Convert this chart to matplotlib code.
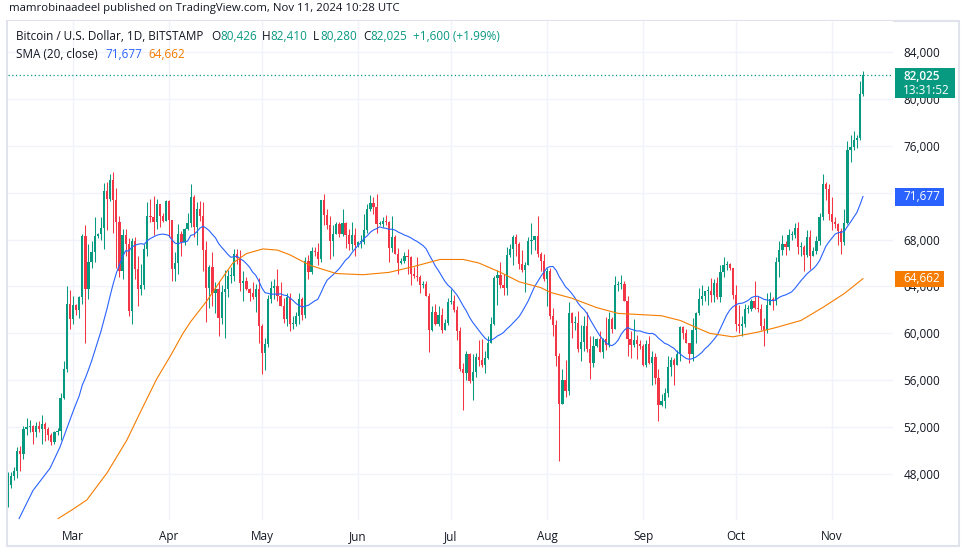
import matplotlib
matplotlib.use("Agg")
import matplotlib.pyplot as plt
import matplotlib.dates as mdates
from matplotlib.patches import Rectangle
import numpy as np
import pandas as pd

# ---------------- data (prices in thousands of USD) ----------------
start_date = "2024-02-09"
end_date = "2024-11-11"

opens_k = [
    # Feb 9-29
    45.3, 47.1, 47.8, 48.3, 50.0, 49.7, 51.8, 52.0, 52.1, 51.6, 52.1, 51.8, 52.3, 51.8, 51.3, 50.7, 51.6, 51.7, 54.5, 57.0, 62.5,
    # Mar
    61.2, 62.4, 62.0, 63.1, 68.3, 63.8, 66.1, 66.9, 68.3, 68.5, 69.0, 72.1, 71.5, 73.1, 71.4, 69.5, 65.3, 68.4, 67.6, 61.9, 67.9, 65.5, 63.8, 64.1, 67.2, 70.0, 69.9, 69.5, 71.0, 70.0, 69.6,
    # Apr
    71.3, 69.7, 65.5, 66.0, 68.5, 67.8, 68.9, 69.4, 71.6, 69.1, 70.6, 70.0, 67.1, 63.9, 65.7, 63.4, 63.8, 61.3, 63.5, 63.8, 64.9, 64.9, 66.8, 66.4, 64.3, 64.5, 63.8, 63.4, 63.1, 63.8,
    # May
    60.6, 58.3, 59.1, 62.9, 63.9, 64.0, 63.2, 62.3, 61.2, 63.1, 60.8, 60.8, 61.5, 62.9, 61.6, 66.2, 65.2, 67.0, 66.9, 66.3, 71.4, 70.1, 69.2, 67.9, 68.5, 69.3, 68.5, 69.4, 68.4, 67.6, 68.4,
    # Jun
    67.5, 67.8, 67.8, 68.8, 70.6, 71.1, 70.8, 69.3, 69.3, 69.6, 69.5, 67.3, 68.2, 66.8, 66.0, 66.2, 66.6, 66.5, 65.1, 64.9, 64.8, 64.1, 64.2, 63.2, 60.3, 61.8, 60.8, 61.6, 60.3, 60.9,
    # Jul
    62.7, 62.8, 62.0, 60.2, 57.0, 56.6, 58.2, 55.9, 56.7, 58.0, 57.7, 57.3, 57.9, 59.2, 60.8, 64.7, 65.0, 64.1, 63.9, 66.7, 67.2, 68.2, 67.6, 65.9, 65.4, 65.8, 67.9, 68.0, 68.3, 66.8, 66.2,
    # Aug
    64.6, 65.3, 61.5, 60.7, 58.1, 54.0, 56.0, 55.1, 61.7, 60.9, 60.9, 58.7, 59.3, 60.6, 58.7, 57.5, 58.9, 59.5, 58.4, 59.5, 59.0, 61.2, 60.4, 64.1, 64.2, 64.2, 62.8, 59.5, 59.0, 59.4, 59.1,
    # Sep
    58.9, 57.3, 59.1, 57.5, 58.0, 56.2, 53.9, 54.2, 54.9, 57.1, 57.7, 57.3, 58.2, 60.5, 60.0, 59.2, 58.2, 60.3, 61.7, 62.9, 63.2, 63.6, 63.6, 63.3, 64.3, 63.1, 65.2, 65.8, 65.9, 65.6,
    # Oct
    63.3, 60.8, 60.6, 60.8, 62.1, 62.1, 62.8, 62.2, 62.1, 60.6, 60.3, 62.4, 62.9, 62.8, 66.1, 67.1, 67.6, 67.4, 68.4, 68.4, 69.0, 67.4, 67.4, 66.7, 68.2, 66.6, 67.0, 67.9, 69.9, 72.7, 72.3,
    # Nov 1-11
    70.2, 69.5, 69.3, 68.7, 67.8, 69.4, 75.6, 75.9, 76.5, 76.7, 80.426,
]

highs_k = [
    48.2, 48.2, 48.6, 50.3, 50.4, 52.1, 52.8, 52.6, 52.2, 52.4, 52.5, 53.0, 52.4, 52.0, 51.5, 51.7, 51.9, 54.9, 57.6, 64.0, 63.7,
    63.2, 62.5, 63.2, 68.5, 69.2, 67.6, 67.9, 69.9, 68.6, 69.9, 72.8, 72.9, 73.6, 73.8, 72.4, 70.0, 68.9, 68.9, 68.1, 68.1, 68.2, 66.6, 65.9, 67.6, 71.2, 71.5, 71.7, 71.5, 71.0, 70.3, 71.4,
    71.4, 69.7, 66.9, 69.3, 68.7, 69.0, 70.3, 72.7, 71.8, 71.2, 71.3, 71.2, 67.9, 65.8, 66.9, 64.4, 64.5, 64.1, 65.4, 65.4, 65.7, 67.2, 67.2, 67.1, 65.3, 64.8, 63.9, 64.4, 64.2, 64.7,
    60.8, 59.6, 63.3, 64.5, 64.6, 65.5, 64.4, 63.0, 63.4, 63.4, 61.5, 61.8, 63.4, 63.1, 66.5, 66.7, 67.4, 67.4, 67.7, 71.4, 71.9, 70.6, 70.0, 69.2, 69.5, 69.5, 70.6, 69.5, 68.9, 69.5, 69.0,
    67.9, 68.4, 70.2, 71.0, 71.8, 71.6, 71.9, 69.6, 69.9, 70.1, 69.6, 70.0, 68.4, 67.3, 66.4, 66.9, 67.2, 66.6, 65.7, 66.5, 65.0, 64.5, 64.5, 63.4, 62.3, 62.5, 62.3, 62.2, 61.2, 63.0,
    63.8, 63.3, 62.3, 60.5, 57.5, 58.5, 58.3, 58.2, 58.3, 59.4, 59.5, 58.5, 59.8, 61.4, 64.9, 65.4, 66.1, 65.1, 67.4, 67.6, 68.4, 68.5, 67.8, 67.1, 66.1, 68.2, 69.4, 68.3, 70.0, 66.9, 66.8,
    65.6, 65.6, 62.2, 61.1, 58.3, 57.0, 57.7, 62.7, 61.8, 61.5, 61.9, 60.7, 61.5, 61.8, 59.8, 59.8, 59.6, 60.2, 59.6, 61.4, 61.8, 61.4, 64.9, 64.5, 65.0, 64.5, 63.2, 60.2, 61.2, 59.9, 59.4,
    59.1, 59.4, 59.8, 58.5, 58.3, 57.0, 54.8, 55.3, 58.1, 58.0, 57.9, 58.6, 60.6, 60.6, 60.4, 59.2, 61.3, 61.8, 63.9, 64.1, 63.6, 64.0, 64.7, 64.6, 64.8, 65.8, 66.5, 66.2, 66.0, 65.6,
    64.1, 62.4, 61.5, 62.5, 62.4, 62.9, 64.5, 63.2, 62.5, 61.3, 63.4, 63.5, 63.1, 66.5, 67.9, 68.4, 67.9, 68.9, 68.7, 69.4, 69.5, 67.8, 67.5, 68.8, 68.8, 67.4, 68.3, 70.3, 73.6, 72.9, 72.7,
    71.6, 69.9, 69.4, 69.0, 70.6, 76.4, 76.9, 77.3, 76.9, 81.5, 82.410,
]

lows_k = [
    45.2, 46.8, 47.5, 47.7, 48.3, 49.3, 51.3, 51.6, 50.6, 51.2, 51.6, 50.6, 50.8, 50.9, 50.5, 50.6, 51.3, 50.9, 54.4, 56.7, 60.4,
    60.8, 61.6, 61.3, 62.5, 59.2, 62.9, 65.6, 66.1, 68.1, 68.0, 67.2, 68.8, 71.3, 68.6, 65.6, 64.8, 64.6, 66.6, 61.5, 60.8, 64.6, 62.3, 63.3, 63.8, 66.6, 69.5, 68.4, 68.9, 69.1, 69.5, 69.6,
    68.2, 64.5, 64.5, 65.1, 66.6, 67.5, 68.8, 69.1, 68.2, 67.5, 69.6, 65.3, 61.0, 62.2, 62.3, 61.7, 59.8, 60.8, 59.6, 63.1, 64.3, 64.5, 65.9, 63.6, 62.8, 63.7, 62.8, 62.9, 61.8, 59.2,
    56.5, 56.9, 58.8, 62.6, 62.9, 62.8, 62.3, 60.9, 60.6, 60.2, 60.4, 60.6, 60.8, 61.1, 61.3, 64.6, 65.1, 66.6, 65.8, 66.1, 69.2, 68.9, 66.3, 66.6, 68.5, 68.2, 68.3, 67.3, 67.1, 67.1, 66.6,
    67.4, 67.3, 67.6, 68.6, 70.4, 70.2, 68.6, 69.2, 69.1, 69.2, 66.1, 66.9, 66.8, 65.1, 65.9, 66.0, 65.1, 64.1, 64.7, 64.5, 63.4, 63.9, 63.2, 58.4, 60.2, 60.7, 60.6, 60.0, 60.3, 60.7,
    62.5, 61.8, 59.4, 56.8, 53.5, 56.0, 55.8, 54.3, 56.3, 57.2, 57.1, 56.6, 57.8, 59.2, 60.7, 62.4, 63.9, 63.3, 63.3, 66.5, 65.8, 66.6, 65.5, 65.2, 63.5, 65.8, 66.8, 67.1, 66.5, 65.3, 64.5,
    62.3, 61.2, 59.8, 57.2, 49.1, 54.0, 54.6, 54.7, 59.6, 60.3, 58.4, 57.6, 58.5, 58.4, 56.1, 57.1, 58.8, 58.4, 57.9, 58.6, 58.8, 60.0, 60.4, 63.6, 63.8, 62.8, 58.1, 57.9, 58.8, 57.8, 58.7,
    57.2, 57.1, 57.4, 55.6, 55.7, 52.5, 53.8, 53.6, 54.6, 56.4, 55.6, 57.3, 57.6, 59.5, 59.2, 57.5, 57.6, 59.2, 61.6, 62.4, 62.8, 62.4, 62.7, 62.7, 62.9, 62.7, 64.8, 65.4, 65.4, 62.9,
    60.2, 60.0, 59.8, 60.5, 61.7, 61.9, 62.1, 61.8, 60.3, 58.9, 60.0, 62.4, 62.0, 62.4, 64.8, 66.7, 66.7, 67.1, 68.0, 68.1, 66.8, 66.6, 65.3, 66.5, 65.5, 66.6, 66.8, 67.5, 69.7, 71.4, 69.7,
    68.8, 69.0, 67.5, 66.8, 67.5, 69.3, 74.6, 75.6, 75.8, 76.5, 80.280,
]

closes_k = [
    47.1, 47.8, 48.3, 50.0, 49.7, 51.8, 52.0, 52.1, 51.6, 52.1, 51.8, 52.3, 51.8, 51.3, 50.7, 51.6, 51.7, 54.5, 57.0, 62.5, 61.2,
    62.4, 62.0, 63.1, 68.3, 63.8, 66.1, 66.9, 68.3, 68.5, 69.0, 72.1, 71.5, 73.1, 71.4, 69.5, 65.3, 68.4, 67.6, 61.9, 67.9, 65.5, 63.8, 64.1, 67.2, 70.0, 69.9, 69.5, 71.0, 70.0, 69.6, 71.3,
    69.7, 65.5, 66.0, 68.5, 67.8, 68.9, 69.4, 71.6, 69.1, 70.6, 70.0, 67.1, 63.9, 65.7, 63.4, 63.8, 61.3, 63.5, 63.8, 64.9, 64.9, 66.8, 66.4, 64.3, 64.5, 63.8, 63.4, 63.1, 63.8, 60.6,
    58.3, 59.1, 62.9, 63.9, 64.0, 63.2, 62.3, 61.2, 63.1, 60.8, 60.8, 61.5, 62.9, 61.6, 66.2, 65.2, 67.0, 66.9, 66.3, 71.4, 70.1, 69.2, 67.9, 68.5, 69.3, 68.5, 69.4, 68.4, 67.6, 68.4, 67.5,
    67.8, 67.8, 68.8, 70.6, 71.1, 70.8, 69.3, 69.3, 69.6, 69.5, 67.3, 68.2, 66.8, 66.0, 66.2, 66.6, 66.5, 65.1, 64.9, 64.8, 64.1, 64.2, 63.2, 60.3, 61.8, 60.8, 61.6, 60.3, 60.9, 62.7,
    62.8, 62.0, 60.2, 57.0, 56.6, 58.2, 55.9, 56.7, 58.0, 57.7, 57.3, 57.9, 59.2, 60.8, 64.7, 65.0, 64.1, 63.9, 66.7, 67.2, 68.2, 67.6, 65.9, 65.4, 65.8, 67.9, 68.0, 68.3, 66.8, 66.2, 64.6,
    65.3, 61.5, 60.7, 58.1, 54.0, 56.0, 55.1, 61.7, 60.9, 60.9, 58.7, 59.3, 60.6, 58.7, 57.5, 58.9, 59.5, 58.4, 59.5, 59.0, 61.2, 60.4, 64.1, 64.2, 64.2, 62.8, 59.5, 59.0, 59.4, 59.1, 58.9,
    57.3, 59.1, 57.5, 58.0, 56.2, 53.9, 54.2, 54.9, 57.1, 57.7, 57.3, 58.2, 60.5, 60.0, 59.2, 58.2, 60.3, 61.7, 62.9, 63.2, 63.6, 63.6, 63.3, 64.3, 63.1, 65.2, 65.8, 65.9, 65.6, 63.3,
    60.8, 60.6, 60.8, 62.1, 62.1, 62.8, 62.2, 62.1, 60.6, 60.3, 62.4, 62.9, 62.8, 66.1, 67.1, 67.6, 67.4, 68.4, 68.4, 69.0, 67.4, 67.4, 66.7, 68.2, 66.6, 67.0, 67.9, 69.9, 72.7, 72.3, 70.2,
    69.5, 69.3, 68.7, 67.8, 69.4, 75.6, 75.9, 76.5, 76.7, 80.4, 82.025,
]

# SMA(20) before enough bars are on screen: values
# (days relative to 2024-03-01)
sma20_early_days = [-17.4, -12.9, -7.4, -4.2]
sma20_early_k = [44.2, 46.6, 48.5, 50.3]

# second (orange) moving-average line (days rel. to 2024-03-01)
sma_slow_days = [-4.8, 0, 4.5, 11, 17.4, 21.6, 27, 31.5, 35.5, 38, 43.3, 48.4, 51.6, 56, 61.3, 66,
                 70, 76.5, 85, 93.6, 102, 110, 118.5, 126, 131, 138, 144, 151, 154, 161, 169, 176,
                 183, 190, 196, 202, 205.6, 213, 221, 227, 235, 242, 249, 255]
sma_slow_k = [44.2, 45.0, 45.8, 48.1, 50.9, 53.2, 56.1, 58.1, 60.0, 61.0, 62.8, 64.8, 66.0, 66.8, 67.2,
              67.1, 66.7, 65.8, 65.1, 65.0, 65.2, 65.7, 66.3, 66.3, 66.0, 65.2, 64.4, 63.9, 63.5, 63.0,
              62.2, 61.7, 61.6, 61.5, 61.1, 60.4, 60.0, 59.7, 60.1, 60.5, 61.1, 62.2, 63.4, 64.662]

price_ticks_k = [48, 52, 56, 60, 64, 68, 72, 76, 80, 84]
price_tick_labels = ["48,000", "52,000", "56,000", "60,000", "64,000", "68,000", "72,000", "76,000", "80,000", "84,000"]

header_text = "mamrobinaadeel published on TradingView.com, Nov 11, 2024 10:28 UTC"
symbol_text = "Bitcoin / U.S. Dollar, 1D, BITSTAMP"
ohlc_letters = ["O", "H", "L", "C"]
ohlc_values = ["80,426", "82,410", "80,280", "82,025"]
change_text = "+1,600 (+1.99%)"
sma_label = "SMA (20, close)"
sma_values = ["71,677", "64,662"]
last_price_k = 82.025
last_price_text = "82,025"
countdown_text = "13:31:52"

# ---------------- styling ----------------
W, H = 967, 551
UP = "#089981"
DOWN = "#f23645"
BLUE = "#2962ff"
ORANGE = "#f57c00"
TXT = "#131722"
GRID = "#f0f3fa"
FONT = ["Open Sans", "DejaVu Sans"]
plt.rcParams["font.family"] = FONT


def fx(px):
    return px / W


def fy(py):
    return 1 - py / H


dates = pd.date_range(start_date, end_date, freq="D")
x = mdates.date2num(dates)
O = np.array(opens_k)
Hh = np.array(highs_k)
L = np.array(lows_k)
C = np.array(closes_k)
assert len(O) == len(Hh) == len(L) == len(C) == len(x)

base = mdates.date2num(pd.Timestamp("2024-03-01"))

fig = plt.figure(figsize=(W / 100, H / 100), dpi=100)
fig.patch.set_facecolor("white")

# outer frame
fig.add_artist(Rectangle((fx(7), fy(546)), (959 - 7) / W, (546 - 21) / H, transform=fig.transFigure,
                         facecolor="none", edgecolor="#e0e3eb", lw=1.5, zorder=0))

ax = fig.add_axes([fx(8), fy(520), (893 - 8) / W, (520 - 21) / H])
ax.set_facecolor("white")
for s in ax.spines.values():
    s.set_visible(False)

ax.set_xlim(base - 20.98, base + 264.7)
ax.set_ylim(44.08, 86.64)

ax.xaxis.set_major_locator(mdates.MonthLocator())
ax.xaxis.set_major_formatter(mdates.DateFormatter("%b"))
ax.yaxis.tick_right()
ax.set_yticks(price_ticks_k)
ax.set_yticklabels(price_tick_labels)
ax.tick_params(axis="both", length=0, colors=TXT, labelsize=8.5)
ax.tick_params(axis="x", pad=7)
ax.tick_params(axis="y", pad=7.5)
for lab in ax.get_yticklabels():
    lab.set_horizontalalignment("left")
ax.grid(True, color=GRID, lw=1.0, zorder=0)
ax.set_axisbelow(True)

# candles
up = C >= O
colors = np.where(up, UP, DOWN)
body_bottom = np.minimum(O, C)
body_h = np.maximum(np.abs(C - O), 0.09)
ax.vlines(x, L, Hh, colors=colors, lw=0.75, zorder=2)
ax.bar(x, body_h, bottom=body_bottom, width=0.72, color=colors, linewidth=0, zorder=3)

# SMA 20 (computed from closes) + early part
sma20 = pd.Series(C).rolling(20).mean().to_numpy()
valid = ~np.isnan(sma20)
blue_x = np.concatenate([base + np.array(sma20_early_days), x[valid]])
blue_y = np.concatenate([np.array(sma20_early_k), sma20[valid]])
ax.plot(blue_x, blue_y, color=BLUE, lw=0.8, zorder=4, solid_joinstyle="round")

# slow MA (orange)
ax.plot(base + np.array(sma_slow_days), sma_slow_k, color=ORANGE, lw=0.8, zorder=4,
        solid_joinstyle="round")

# last price dotted line
ax.axhline(last_price_k, color=UP, lw=0.9, ls=(0, (1, 2)), zorder=4)

# ---------------- header & legend ----------------
fig.text(fx(9), fy(9), header_text, fontsize=8.2, color=TXT, va="center", ha="left")
fig.text(fx(16), fy(36), symbol_text, fontsize=8.5, color=TXT, va="center", ha="left")
letter_x = [211, 262, 313, 363]
value_x = [220, 270, 320, 370]
for lt, vx, lx, val in zip(ohlc_letters, value_x, letter_x, ohlc_values):
    fig.text(fx(lx), fy(36), lt, fontsize=8.5, color=TXT, va="center", ha="left")
    fig.text(fx(vx), fy(36), val, fontsize=8.5, color=UP, va="center", ha="left")
fig.text(fx(413), fy(36), change_text, fontsize=8.5, color=UP, va="center", ha="left")
fig.text(fx(16), fy(54), sma_label, fontsize=8.5, color=TXT, va="center", ha="left")
fig.text(fx(105), fy(54), sma_values[0], fontsize=8.5, color=BLUE, va="center", ha="left")
fig.text(fx(148), fy(54), sma_values[1], fontsize=8.5, color=ORANGE, va="center", ha="left")


# ---------------- price tags ----------------
def tag(x0, y0, x1, y1, color):
    fig.add_artist(Rectangle((fx(x0), fy(y1)), (x1 - x0) / W, (y1 - y0) / H,
                             transform=fig.transFigure, facecolor=color, edgecolor="none", zorder=5))


tag(895, 68, 955, 98, UP)
fig.text(fx(903), fy(76), last_price_text, fontsize=8.5, color="white", va="center", ha="left",
         fontweight="semibold", zorder=6)
fig.text(fx(903), fy(90), countdown_text, fontsize=8.5, color="white", va="center", ha="left", zorder=6)
tag(895, 188, 944, 206, BLUE)
fig.text(fx(903), fy(197), sma_values[0], fontsize=8.5, color="white", va="center", ha="left", zorder=6)
tag(895, 271, 944, 287, ORANGE)
fig.text(fx(903), fy(279), sma_values[1], fontsize=8.5, color="white", va="center", ha="left", zorder=6)

fig.savefig("out.png", dpi=100, facecolor="white")
